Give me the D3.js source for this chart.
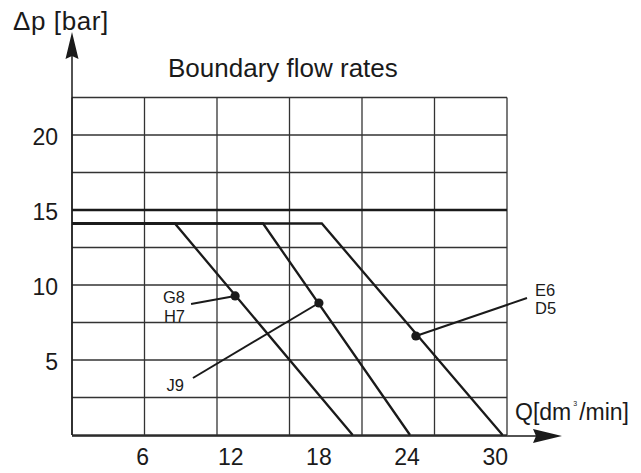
<!DOCTYPE html>
<html><head><meta charset="utf-8">
<script src="https://cdn.jsdelivr.net/npm/d3@7"></script>
<style>html,body{margin:0;padding:0;background:#fff;} svg{display:block;font-family:"Liberation Sans",Arial,Helvetica,sans-serif;}</style>
</head><body><svg id="c" width="641" height="473"></svg>
<script>
// ---- data ----
const chartTitle = "Boundary flow rates";
const yAxisTitle = "Δp [bar]";
const xAxisTitle = "Q[dm";
const xAxisSup = "3";
const xAxisTail = "/min]";
const xTickValues = [6, 12, 18, 24, 30];
const yTickValues = [5, 10, 15, 20];
const qDomain = [1.2, 30.8];
const pDomain = [0, 22.5];
const gridColumns = 6;
const gridStepP = 2.5;
const maxPressure = 15;
const curveA = [[1.2, 14.1], [8.2, 14.1], [20.3, 0]];
const curveB = [[1.2, 14.1], [14.2, 14.1], [24.2, 0]];
const curveC = [[1.2, 14.1], [18.2, 14.1], [30.5, 0]];
const pointQ = [12.3, 18.0, 24.6];
const pointP = [9.27, 8.8, 6.6];
const pointLabels = [["G8", "H7"], ["J9"], ["E6", "D5"]];
const leaderQ = [9.3, 9.43, 32.16];
const leaderP = [8.73, 3.8, 9.13];

// ---- layout ----
const W = 641, H = 473;
const plot = {left: 72, right: 507, top: 97.5, bottom: 435};
const labelLayout = [
  {anchor: "end", dx: -6, dy: [-1, 18]},
  {anchor: "end", dx: -9, dy: [13]},
  {anchor: "start", dx: 8, dy: [-2, 16]}
];
const ink = "#1a1a1a";

const svg = d3.select("#c");
const x = d3.scaleLinear().domain(qDomain).range([plot.left, plot.right]);
const y = d3.scaleLinear().domain(pDomain).range([plot.bottom, plot.top]);

// grid
const colStep = (qDomain[1] - qDomain[0]) / gridColumns;
const gridQ = d3.range(gridColumns + 1).map(i => qDomain[0] + i * colStep);
const gridP = d3.range(pDomain[0], pDomain[1] + 0.001, gridStepP);
const g = svg.append("g");
g.selectAll("line.v").data(gridQ).join("line")
  .attr("x1", d => x(d)).attr("x2", d => x(d))
  .attr("y1", y(pDomain[1])).attr("y2", y(0))
  .attr("stroke", "#333").attr("stroke-width", 1.3);
g.selectAll("line.h").data(gridP).join("line")
  .attr("x1", x(qDomain[0])).attr("x2", x(qDomain[1]))
  .attr("y1", d => y(d)).attr("y2", d => y(d))
  .attr("stroke", "#333").attr("stroke-width", 1.3);

// max pressure line
svg.append("line")
  .attr("x1", x(qDomain[0])).attr("x2", x(qDomain[1]))
  .attr("y1", y(maxPressure)).attr("y2", y(maxPressure))
  .attr("stroke", ink).attr("stroke-width", 2.3);

// curves
const line = d3.line().x(d => x(d[0])).y(d => y(d[1]));
svg.selectAll("path.curve").data([curveA, curveB, curveC]).join("path")
  .attr("d", line).attr("fill", "none")
  .attr("stroke", ink).attr("stroke-width", 2.3).attr("stroke-linejoin", "miter");

// axes with arrows
svg.append("line")
  .attr("x1", plot.left).attr("x2", plot.left)
  .attr("y1", y(0)).attr("y2", 45)
  .attr("stroke", ink).attr("stroke-width", 1.5);
svg.append("path")
  .attr("d", `M${plot.left},32 L${plot.left+6.5},59 L${plot.left},56 L${plot.left-6.5},59 Z`)
  .attr("fill", ink);
const ay = y(0) + 1;
svg.append("line")
  .attr("x1", plot.left).attr("x2", 545)
  .attr("y1", ay).attr("y2", ay)
  .attr("stroke", ink).attr("stroke-width", 1.5);
svg.append("path")
  .attr("d", `M562,${ay} L533,${ay-7} L536,${ay} L533,${ay+7} Z`)
  .attr("fill", ink);

// tick labels
svg.selectAll("text.xt").data(xTickValues).join("text")
  .attr("x", d => x(d)).attr("y", 465)
  .attr("text-anchor", "middle").attr("font-size", 23).attr("fill", ink)
  .text(d => d);
svg.selectAll("text.yt").data(yTickValues).join("text")
  .attr("x", 58).attr("y", d => y(d) + 10)
  .attr("text-anchor", "end").attr("font-size", 23).attr("fill", ink)
  .text(d => d);

// titles
svg.append("text").attr("x", 168).attr("y", 77)
  .attr("font-size", 26).attr("fill", ink).text(chartTitle);
svg.append("text").attr("x", 13).attr("y", 30)
  .attr("font-size", 26).attr("letter-spacing", 0.6).attr("fill", ink).text(yAxisTitle);
const xt = svg.append("text").attr("x", 515).attr("y", 420)
  .attr("font-size", 23).attr("fill", ink);
xt.append("tspan").text(xAxisTitle);
xt.append("tspan").attr("font-size", 7).attr("dy", -14).attr("dx", 2).text(xAxisSup);
xt.append("tspan").attr("dy", 14).attr("dx", 2).text(xAxisTail);

// annotations
pointQ.forEach((q, i) => {
  const px = x(q), py = y(pointP[i]);
  const lx = x(leaderQ[i]), ly = y(leaderP[i]);
  svg.append("line").attr("x1", lx).attr("y1", ly).attr("x2", px).attr("y2", py)
    .attr("stroke", ink).attr("stroke-width", 2);
  svg.append("circle").attr("cx", px).attr("cy", py).attr("r", 4.6).attr("fill", ink);
  const L = labelLayout[i];
  pointLabels[i].forEach((t, j) => {
    svg.append("text").attr("x", lx + L.dx).attr("y", ly + L.dy[j])
      .attr("text-anchor", L.anchor).attr("font-size", 16.5).attr("fill", ink).text(t);
  });
});
</script></body></html>
